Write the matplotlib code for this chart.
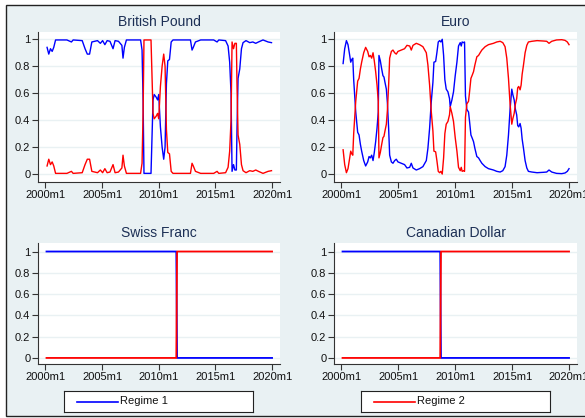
import matplotlib
matplotlib.use("Agg")
import matplotlib.pyplot as plt
from matplotlib.patches import Rectangle
from matplotlib.lines import Line2D

plt.rcParams['font.family'] = ['Liberation Sans', 'DejaVu Sans']

# decimal years
gbp_t = [2000.15, 2000.3, 2000.45, 2000.6, 2000.74, 2000.9, 2001.9, 2002.3, 2002.45,
         2003.25, 2003.5, 2003.7, 2003.9, 2004.1, 2004.6, 2004.85, 2005.05, 2005.25,
         2005.45, 2005.7, 2005.97, 2006.15, 2006.45, 2006.75, 2006.85, 2006.97, 2007.15,
         2008.4, 2008.53, 2008.62, 2008.7, 2009.32, 2009.5, 2009.6, 2009.78, 2009.9,
         2010.0, 2010.15, 2010.3, 2010.44, 2010.56, 2010.68, 2010.8, 2010.95, 2011.1,
         2011.26, 2012.8, 2012.94, 2013.05, 2013.24, 2013.7, 2014.85, 2015.15, 2015.3,
         2015.9, 2016.12, 2016.26, 2016.38, 2016.47, 2016.6, 2016.72, 2016.85, 2016.91,
         2017.0, 2017.15, 2017.3, 2017.44, 2017.7, 2018.03, 2018.3, 2018.56, 2018.8,
         2019.2, 2019.65, 2019.95]
gbp_r1 = [0.94, 0.89, 0.93, 0.91, 0.94, 0.995, 0.995, 0.98, 0.995,
          0.99, 0.93, 0.89, 0.89, 0.98, 0.99, 0.97, 0.99, 0.96,
          0.99, 0.985, 0.93, 0.99, 0.985, 0.955, 0.86, 0.94, 0.995,
          0.995, 0.92, 0.55, 0.005, 0.005, 0.55, 0.59, 0.57, 0.55,
          0.59, 0.35, 0.2, 0.11, 0.2, 0.67, 0.84, 0.85, 0.98,
          0.995, 0.995, 0.92, 0.94, 0.98, 0.995, 0.995, 0.98, 0.995,
          0.99, 0.95, 0.83, 0.6, 0.02, 0.07, 0.03, 0.03, 0.35,
          0.71, 0.78, 0.93, 0.975, 0.99, 0.975, 0.98, 0.97, 0.98,
          0.995, 0.98, 0.975]
gbp_r2 = [0.06, 0.11, 0.07, 0.09, 0.06, 0.005, 0.005, 0.02, 0.005,
          0.01, 0.07, 0.11, 0.11, 0.02, 0.01, 0.03, 0.01, 0.04,
          0.01, 0.015, 0.07, 0.01, 0.015, 0.045, 0.14, 0.06, 0.005,
          0.005, 0.08, 0.45, 0.995, 0.995, 0.45, 0.41, 0.43, 0.45,
          0.41, 0.65, 0.8, 0.89, 0.8, 0.33, 0.16, 0.15, 0.02,
          0.005, 0.005, 0.08, 0.06, 0.02, 0.005, 0.005, 0.02, 0.005,
          0.01, 0.05, 0.17, 0.4, 0.98, 0.93, 0.97, 0.97, 0.65,
          0.29, 0.22, 0.07, 0.025, 0.01, 0.025, 0.02, 0.03, 0.02,
          0.005, 0.02, 0.025]

eur_t = [2000.15, 2000.29, 2000.44, 2000.58, 2000.73, 2000.82, 2000.91, 2001.0,
         2001.08, 2001.26, 2001.43, 2001.55, 2001.67, 2001.78, 2001.96, 2002.13,
         2002.31, 2002.43, 2002.54, 2002.66, 2002.78, 2002.89, 2003.01, 2003.13,
         2003.24, 2003.3, 2003.42, 2003.54, 2003.65, 2003.74, 2003.83, 2003.95,
         2004.04, 2004.15, 2004.24, 2004.39, 2004.53, 2004.68, 2004.82, 2004.97,
         2005.26, 2005.55, 2005.76, 2006.0, 2006.14, 2006.29, 2006.58, 2006.87,
         2007.16, 2007.46, 2007.6, 2007.75, 2007.89, 2008.04, 2008.13, 2008.28,
         2008.39, 2008.51, 2008.63, 2008.74, 2008.86, 2008.98, 2009.09, 2009.21,
         2009.36, 2009.5, 2009.56, 2009.71, 2009.85, 2010.0, 2010.15, 2010.29,
         2010.44, 2010.53, 2010.61, 2010.73, 2010.82, 2010.9, 2011.02, 2011.17,
         2011.26, 2011.38, 2011.5, 2011.61, 2011.73, 2011.9, 2012.05, 2012.19,
         2012.34, 2012.63, 2012.92, 2013.36, 2013.65, 2013.95, 2014.18, 2014.38,
         2014.53, 2014.68, 2014.82, 2014.97, 2015.06, 2015.18, 2015.29, 2015.4,
         2015.49, 2015.58, 2015.7, 2015.79, 2015.88, 2016.0, 2016.14, 2016.29,
         2016.43, 2016.73, 2017.19, 2017.77, 2018.04, 2018.24, 2018.48, 2018.9,
         2019.36, 2019.65, 2019.85, 2020.0]
eur_r1 = [0.82, 0.93, 0.99, 0.96, 0.88, 0.83, 0.85, 0.86,
          0.7, 0.46, 0.31, 0.29, 0.22, 0.17, 0.1, 0.06,
          0.09, 0.13, 0.12, 0.14, 0.1, 0.16, 0.24, 0.34,
          0.46, 0.88, 0.84, 0.78, 0.73, 0.72, 0.68, 0.63,
          0.53, 0.34, 0.14, 0.09, 0.08, 0.1, 0.11, 0.09,
          0.08, 0.07, 0.045, 0.05, 0.08, 0.045, 0.03, 0.04,
          0.055, 0.1, 0.19, 0.34, 0.53, 0.68, 0.83, 0.835,
          0.9, 0.98, 0.99, 0.98, 1.0, 0.88, 0.7, 0.63,
          0.61, 0.56, 0.5, 0.55, 0.61, 0.73, 0.83, 0.95,
          0.975, 0.95, 0.98, 0.975, 0.98, 0.58, 0.48, 0.46,
          0.39, 0.29, 0.265, 0.24, 0.19, 0.13, 0.12, 0.1,
          0.08, 0.055, 0.04, 0.03, 0.02, 0.015, 0.025, 0.055,
          0.14, 0.29, 0.48, 0.63, 0.59, 0.55, 0.48, 0.44,
          0.36, 0.35, 0.375, 0.34, 0.26, 0.19, 0.1, 0.045,
          0.02, 0.015, 0.01, 0.013, 0.015, 0.03, 0.015, 0.005,
          0.003, 0.008, 0.02, 0.04]
eur_r2 = [0.18, 0.07, 0.01, 0.04, 0.12, 0.17, 0.15, 0.14,
          0.3, 0.54, 0.69, 0.71, 0.78, 0.83, 0.9, 0.94,
          0.91, 0.87, 0.88, 0.86, 0.9, 0.84, 0.76, 0.66,
          0.54, 0.12, 0.16, 0.22, 0.27, 0.28, 0.32, 0.37,
          0.47, 0.66, 0.86, 0.91, 0.92, 0.9, 0.89, 0.91,
          0.92, 0.93, 0.955, 0.95, 0.92, 0.955, 0.97, 0.96,
          0.945, 0.9, 0.81, 0.66, 0.47, 0.32, 0.17, 0.165,
          0.1, 0.02, 0.01, 0.02, 0.0, 0.12, 0.3, 0.37,
          0.39, 0.44, 0.5, 0.45, 0.39, 0.27, 0.17, 0.05,
          0.025, 0.05, 0.02, 0.025, 0.02, 0.42, 0.52, 0.54,
          0.61, 0.71, 0.735, 0.76, 0.81, 0.87, 0.88, 0.9,
          0.92, 0.945, 0.96, 0.97, 0.98, 0.985, 0.975, 0.945,
          0.86, 0.71, 0.52, 0.37, 0.41, 0.45, 0.52, 0.56,
          0.64, 0.65, 0.625, 0.66, 0.74, 0.81, 0.9, 0.955,
          0.98, 0.985, 0.99, 0.987, 0.985, 0.97, 0.985, 0.995,
          0.997, 0.992, 0.98, 0.96]

chf_t = [2000.1, 2011.55, 2011.62, 2020.0]
chf_r1 = [1, 1, 0, 0]
chf_r2 = [0, 0, 1, 1]

cad_t = [2000.1, 2008.68, 2008.75, 2020.0]
cad_r1 = [1, 1, 0, 0]
cad_r2 = [0, 0, 1, 1]

panels = [
    ('British Pound', gbp_t, gbp_r1, gbp_r2),
    ('Euro', eur_t, eur_r1, eur_r2),
    ('Swiss Franc', chf_t, chf_r1, chf_r2),
    ('Canadian Dollar', cad_t, cad_r1, cad_r2),
]
year_ticks = [2000, 2005, 2010, 2015, 2020]
year_labels = ['2000m1', '2005m1', '2010m1', '2015m1', '2020m1']
y_ticks = [0, 0.2, 0.4, 0.6, 0.8, 1]
y_labels = ['0', '0.2', '0.4', '0.6', '0.8', '1']

W, H = 585, 418
bg = '#e9f1f3'
navy = '#1c2f55'

fig = plt.figure(figsize=(W / 100, H / 100), dpi=100)
fig.patch.set_facecolor('white')
fig.patches.append(Rectangle((6 / W, 1 - 416 / H), (W + 5) / W, (416 - 5) / H,
                             transform=fig.transFigure, facecolor=bg,
                             edgecolor='#222222', linewidth=1.0, zorder=-10))

def ax_rect(x0, x1, y0, y1):
    return [x0 / W, 1 - y1 / H, (x1 - x0) / W, (y1 - y0) / H]

rects = [ax_rect(38, 280, 32, 182), ax_rect(334, 577, 32, 182),
         ax_rect(38, 280, 243, 364), ax_rect(334, 577, 243, 364)]
ylims = [(-0.059, 1.054), (-0.059, 1.054), (-0.057, 1.08), (-0.057, 1.08)]

for i, (title, t, r1, r2) in enumerate(panels):
    ax = fig.add_axes(rects[i])
    ax.set_facecolor('white')
    lw = 1.0 if i < 2 else 1.3
    ax.plot(t, r1, color='#0000ff', linewidth=lw)
    ax.plot(t, r2, color='#ff0000', linewidth=lw)
    ax.set_xlim(1999.35, 2020.7)
    ax.set_ylim(*ylims[i])
    ax.set_xticks(year_ticks)
    ax.set_xticklabels(year_labels)
    ax.set_yticks(y_ticks)
    ax.set_yticklabels(y_labels)
    ax.tick_params(labelsize=8, length=4, width=0.8, color='#333333', pad=1.5,
                   labelcolor='#111111')
    ax.grid(axis='y', color=bg, linewidth=1.0)
    ax.set_axisbelow(True)
    for side in ['top', 'right']:
        ax.spines[side].set_visible(False)
    for side in ['left', 'bottom']:
        ax.spines[side].set_color('#333333')
        ax.spines[side].set_linewidth(0.8)
    ax.set_title(title, fontsize=10, color=navy, pad=4)

# legend boxes under the bottom panels
for (x0, x1), color, label in [((64, 253), '#0000ff', 'Regime 1'),
                               ((361, 550), '#ff0000', 'Regime 2')]:
    lax = fig.add_axes(ax_rect(x0, x1, 391, 412))
    lax.set_xlim(x0, x1)
    lax.set_ylim(0, 1)
    lax.set_xticks([])
    lax.set_yticks([])
    for s in lax.spines.values():
        s.set_color('#222222')
        s.set_linewidth(0.8)
    lax.add_line(Line2D([x0 + 13, x0 + 54], [0.5, 0.5], color=color, linewidth=1.2))
    lax.text(x0 + 56, 0.5, label, fontsize=8, va='center', ha='left', color='#111111')

fig.savefig('out.png', dpi=100, facecolor=fig.get_facecolor())
